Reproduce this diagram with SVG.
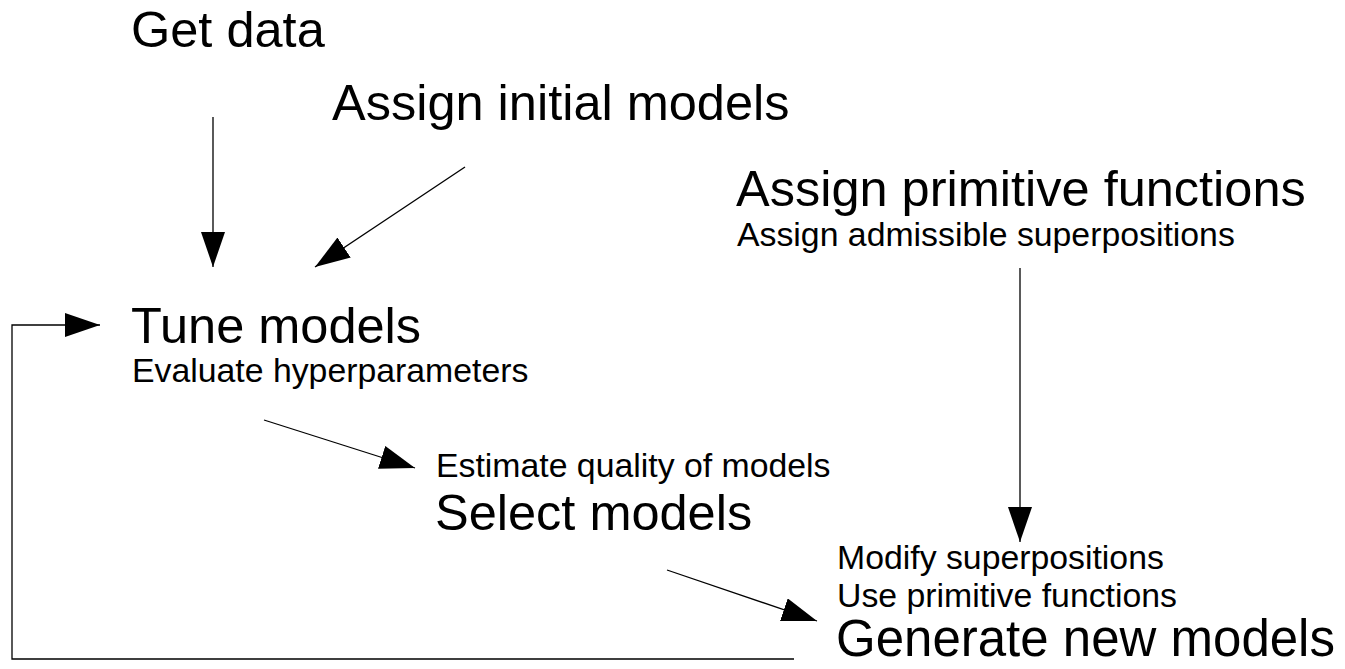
<svg xmlns="http://www.w3.org/2000/svg" width="1345" height="669" viewBox="0 0 1345 669">
<style>
.big{font-family:"Liberation Sans",Arial,sans-serif;font-size:50.5px;fill:#000}
.small{font-family:"Liberation Sans",Arial,sans-serif;font-size:33.8px;fill:#000}
.conn{stroke:#000;stroke-width:1.3;fill:none}
</style>
<defs>
<marker id="ah" markerUnits="userSpaceOnUse" markerWidth="36" markerHeight="26" refX="35" refY="12" orient="auto">
<path d="M0,0 L35,12 L0,24 Z" fill="#000"/>
</marker>
</defs>
<rect width="1345" height="669" fill="#fff"/>
<g id="connectors">
<line class="conn" x1="213" y1="117" x2="213" y2="267" marker-end="url(#ah)"/>
<line class="conn" x1="465" y1="167" x2="315" y2="267" marker-end="url(#ah)"/>
<line class="conn" x1="1020" y1="268" x2="1020" y2="542" marker-end="url(#ah)"/>
<line class="conn" x1="264" y1="420" x2="415" y2="468" marker-end="url(#ah)"/>
<line class="conn" x1="667" y1="570" x2="817" y2="621" marker-end="url(#ah)"/>
<polyline class="conn" points="794,659 12,659 12,325 100,325" marker-end="url(#ah)"/>
</g>
<g id="get-data"><text class="big" x="131" y="47">Get data</text></g>
<g id="assign-initial"><text class="big" x="332" y="120">Assign initial models</text></g>
<g id="assign-primitive"><text class="big" x="736" y="206">Assign primitive functions</text><text class="small" x="737" y="246">Assign admissible superpositions</text></g>
<g id="tune"><text class="big" x="131" y="343">Tune models</text><text class="small" x="132" y="382">Evaluate hyperparameters</text></g>
<g id="select"><text class="small" x="436" y="477">Estimate quality of models</text><text class="big" x="435" y="530">Select models</text></g>
<g id="generate"><text class="small" x="837" y="569">Modify superpositions</text><text class="small" x="837" y="607">Use primitive functions</text><text class="big" x="836" y="656" style="font-size:51px">Generate new models</text></g>
</svg>
